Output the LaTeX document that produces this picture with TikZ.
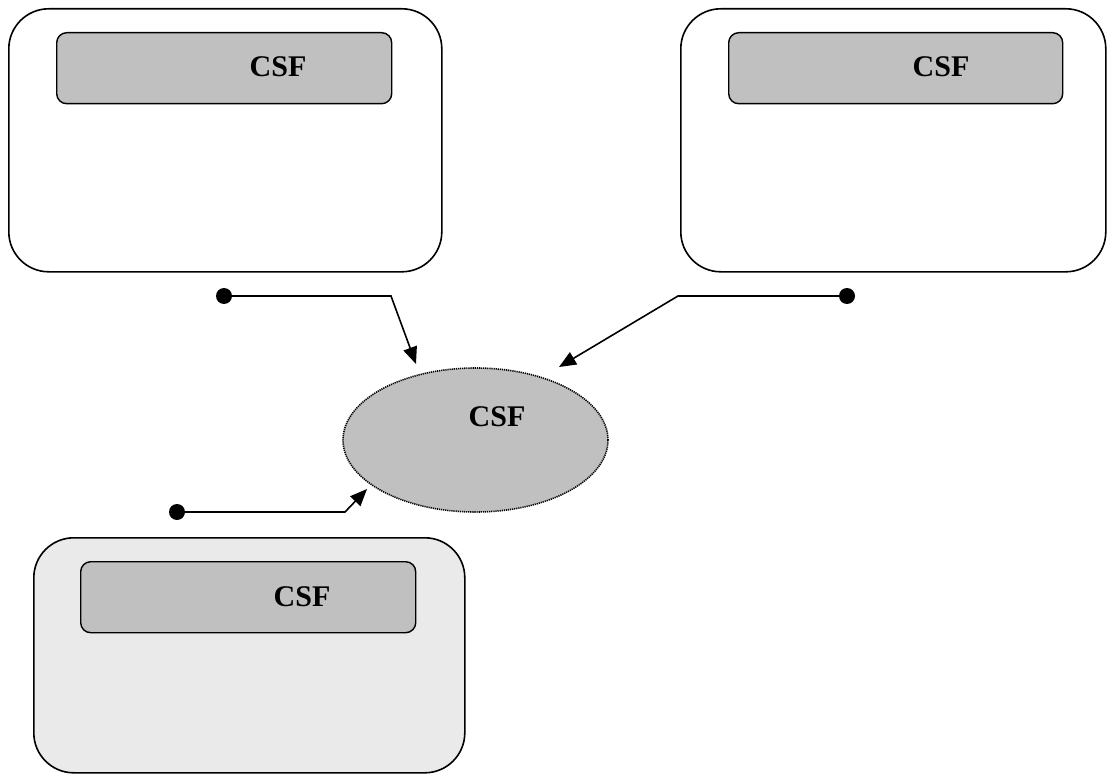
\documentclass[tikz,border=0pt]{standalone}
\usepackage{fontspec}
\setmainfont{Liberation Serif}
\usetikzlibrary{arrows.meta,shapes.geometric}
\definecolor{boxgray}{HTML}{C0C0C0}
\definecolor{paleback}{HTML}{EAEAEA}
\begin{document}
\begin{tikzpicture}[x=1pt,y=-1pt,
  outerbox/.style={draw, line width=1.6pt, rounded corners=40pt, inner sep=0pt, anchor=north west},
  innerbox/.style={draw, fill=boxgray, line width=1.4pt, rounded corners=10pt, inner sep=0pt, anchor=north west, minimum width=335pt, minimum height=71pt},
  lbl/.style={font=\fontsize{30}{36}\selectfont\bfseries, inner sep=0pt},
  dotend/.style={circle, fill=black, inner sep=0pt, minimum size=16pt},
  conn/.style={line width=1.6pt, -{Triangle[length=17pt,width=14pt]}}
]
\useasboundingbox (0,0) rectangle (1114,778);
% outer boxes
\node[outerbox, minimum width=433pt, minimum height=263pt] (boxA) at (8,8) {};
\node[outerbox, minimum width=425pt, minimum height=263pt] (boxB) at (680,8) {};
\node[outerbox, fill=paleback, minimum width=431pt, minimum height=235pt] (boxC) at (33,537) {};
% inner boxes
\node[innerbox] (inA) at (56,32) {};
\node[innerbox, minimum width=334pt] (inB) at (728,32) {};
\node[innerbox] (inC) at (80,561) {};
\node[lbl] (tA) at (278,67) {CSF};
\node[lbl] (tB) at (941,67) {CSF};
\node[lbl] (tC) at (302,597) {CSF};
% ellipse
\node[ellipse, draw, fill=boxgray, line width=1.6pt, dash pattern=on 1.2pt off 0.9pt, minimum width=265pt, minimum height=144pt, inner sep=0pt] (ell) at (475.5,440) {};
\node[lbl] (tE) at (497,417) {CSF};
% connectors
\node[dotend] (dA) at (224,296) {};
\coordinate (kA) at (391,296);
\coordinate (eA) at (416,364);
\draw[conn] (dA.center) -- (kA) -- (eA);
\node[dotend] (dB) at (847,296) {};
\coordinate (kB) at (678,296);
\coordinate (eB) at (559,367);
\draw[conn] (dB.center) -- (kB) -- (eB);
\node[dotend] (dC) at (177,512) {};
\coordinate (kC) at (345,512);
\coordinate (eC) at (367,489);
\draw[conn] (dC.center) -- (kC) -- (eC);
\end{tikzpicture}
\end{document}
